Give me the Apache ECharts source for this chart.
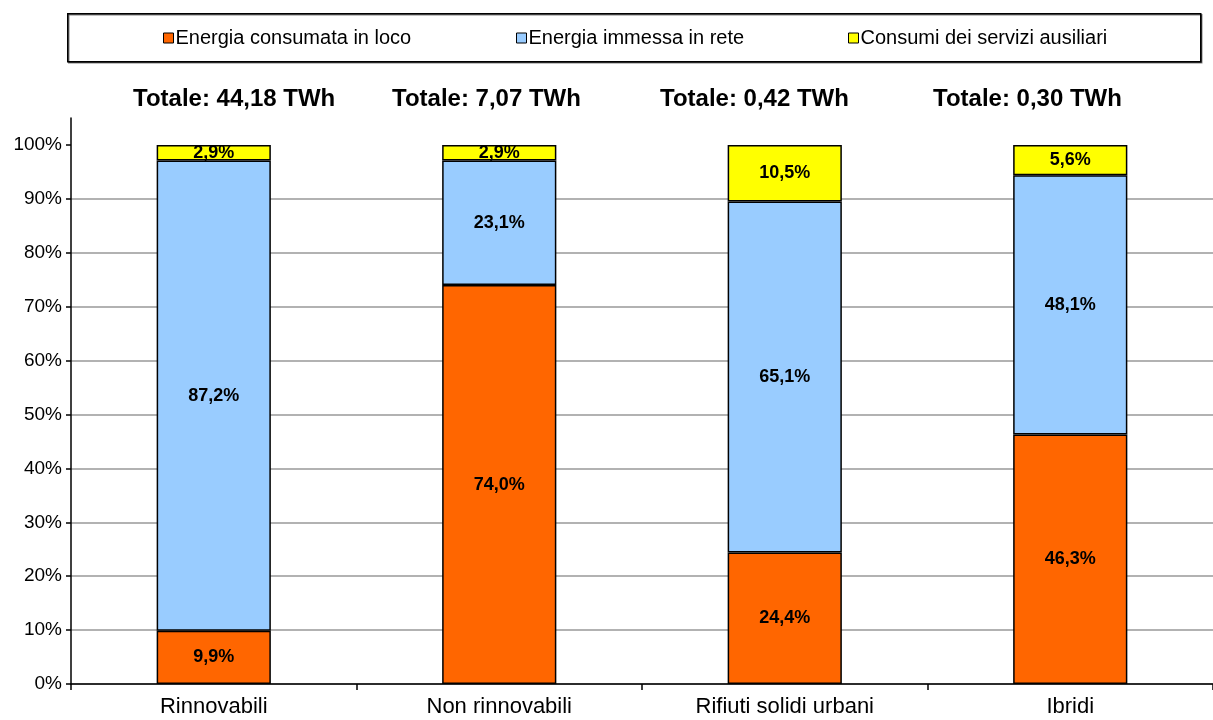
<!DOCTYPE html>
<html>
<head>
<meta charset="utf-8">
<script src="https://cdn.jsdelivr.net/npm/echarts@6/dist/echarts.min.js"></script>
<style>html,body{margin:0;padding:0;background:#fff}#c{width:1213px;height:720px}</style>
</head>
<body>
<div id="c"></div>
<script>
const categories = ['Rinnovabili', 'Non rinnovabili', 'Rifiuti solidi urbani', 'Ibridi'];
const seriesNames = ['Energia consumata in loco', 'Energia immessa in rete', 'Consumi dei servizi ausiliari'];
const consumataInLoco = [9.9, 74.0, 24.4, 46.3];
const immessaInRete = [87.2, 23.1, 65.1, 48.1];
const serviziAusiliari = [2.9, 2.9, 10.5, 5.6];
const totali = ['Totale: 44,18 TWh', 'Totale: 7,07 TWh', 'Totale: 0,42 TWh', 'Totale: 0,30 TWh'];
const yTicks = [0, 10, 20, 30, 40, 50, 60, 70, 80, 90, 100];

const colors = ['#FF6600', '#99CCFF', '#FFFF00'];
const font = '"Liberation Sans", Arial, sans-serif';
const fmt = v => v.toFixed(1).replace('.', ',') + '%';

const chart = echarts.init(document.getElementById('c'), null, {renderer: 'canvas'});
const dataSets = [consumataInLoco, immessaInRete, serviziAusiliari];
const totalLeft = [133, 392, 660, 933];
const legendLeft = [163, 516, 848];

chart.setOption({
  animation: false,
  textStyle: {fontFamily: font},
  graphic: [{
    type: 'rect', left: 67, top: 13, z: -1,
    shape: {width: 1133, height: 48},
    style: {fill: '#fff', stroke: '#000', lineWidth: 1.5, shadowColor: 'rgba(0,0,0,0.5)', shadowOffsetX: 1, shadowOffsetY: 1, shadowBlur: 0}
  }],
  title: totali.map((t, i) => ({
    text: t, left: totalLeft[i], top: 87, padding: 0,
    textStyle: {fontSize: 24, fontWeight: 'bold', color: '#000', fontFamily: font}
  })),
  legend: seriesNames.map((n, i) => ({
    data: [n], left: legendLeft[i], top: 28, padding: 0,
    itemWidth: 10, itemHeight: 10, itemGap: 0,
    icon: 'rect',
    textStyle: {fontSize: 20, color: '#000', fontFamily: font, padding: [0, 0, 0, -3]},
    itemStyle: {borderColor: '#000', borderWidth: 1}
  })),
  grid: {left: 71, right: -2, top: 118, bottom: 36, containLabel: false},
  xAxis: {
    type: 'category', data: categories,
    axisLine: {lineStyle: {color: '#000', width: 1.5}},
    axisTick: {show: true, length: 6, lineStyle: {color: '#000', width: 1.5}},
    axisLabel: {fontSize: 22, color: '#000', margin: 12, fontFamily: font}
  },
  yAxis: {
    type: 'value', min: 0, max: 105, interval: 10,
    axisLine: {show: true, lineStyle: {color: '#000', width: 1.5}},
    axisTick: {show: true, length: 5, lineStyle: {color: '#000', width: 1.5},
      customValues: yTicks},
    axisLabel: {fontSize: 19, color: '#000', margin: 9, fontFamily: font,
      customValues: yTicks,
      formatter: v => v > 100 ? '' : v + '%'},
    splitLine: {show: true, showMaxLine: false, lineStyle: {color: '#999', width: 1.5}}
  },
  series: dataSets.map((d, i) => ({
    name: seriesNames[i], type: 'bar', stack: 'tot', data: d,
    barWidth: '40%',
    itemStyle: {color: colors[i], borderColor: '#000', borderWidth: 1.5},
    label: {show: true, position: 'inside', formatter: p => fmt(p.value),
      fontSize: 18, fontWeight: 'bold', color: '#000', fontFamily: font},
    emphasis: {disabled: true}
  }))
});
</script>
</body>
</html>
